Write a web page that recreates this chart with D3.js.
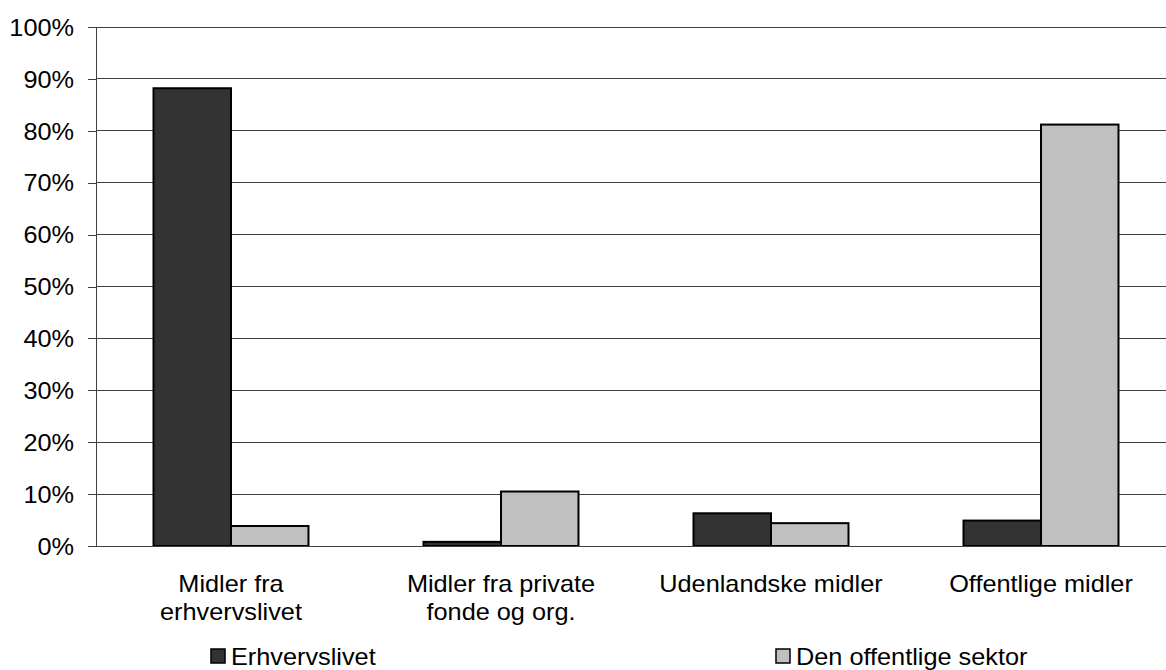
<!DOCTYPE html>
<html>
<head>
<meta charset="utf-8">
<script src="https://cdn.jsdelivr.net/npm/d3@7"></script>
<style>
  html, body { margin: 0; padding: 0; background: #fff; }
  svg { display: block; }
  text { font-family: "Liberation Sans", Arial, sans-serif; fill: #000; }
</style>
</head>
<body>
<svg id="chart" width="1166" height="670"></svg>
<script>
const categories = [["Midler fra", "erhvervslivet"], ["Midler fra private", "fonde og org."], ["Udenlandske midler"], ["Offentlige midler"]];
const seriesNames = ["Erhvervslivet", "Den offentlige sektor"];
const erhvervslivet = [88.2, 0.8, 6.3, 4.9];
const offentlige = [3.85, 10.5, 4.4, 81.2];
const yTicks = [0, 10, 20, 30, 40, 50, 60, 70, 80, 90, 100];
const colors = ["#333333", "#c0c0c0"];

(function() {
const FS = 23, SX = 1.1;
const svg = d3.select("#chart");
const pLeft = 96, pRight = 1176, pTop = 27, pBottom = 546;

const catKeys = categories.map((c, i) => i);
const x0 = d3.scaleBand().domain(catKeys).range([pLeft, pRight]).paddingInner(0.426).paddingOuter(0.213);
const x1 = d3.scaleBand().domain([0, 1]).range([0, x0.bandwidth()]);
const y = d3.scaleLinear().domain([0, 100]).range([pBottom, pTop]);

// gridlines
svg.append("g").selectAll("line").data(yTicks.filter(t => t > 0)).join("line")
  .attr("x1", pLeft).attr("x2", 1166)
  .attr("y1", d => y(d)).attr("y2", d => y(d))
  .attr("stroke", "#404040").attr("stroke-width", 1).attr("shape-rendering", "crispEdges");

// y axis
const yAxis = d3.axisLeft(y).tickValues(yTicks).tickFormat(d => d + "%").tickSize(8).tickPadding(0);
const gy = svg.append("g").attr("transform", `translate(${pLeft},0)`).call(yAxis);
gy.select(".domain").attr("stroke", "#404040").attr("shape-rendering", "crispEdges");
gy.selectAll(".tick line").attr("stroke", "#404040").attr("shape-rendering", "crispEdges");
gy.selectAll(".tick text").each(function() {
  const t = d3.select(this);
  t.attr("x", null).attr("dy", "0.36em")
   .attr("text-anchor", "end")
   .attr("transform", `translate(-22,0) scale(${SX},1)`)
   .style("font-size", FS + "px").style("font-family", '"Liberation Sans", Arial, sans-serif').attr("fill", "#000");
});

// bars
const data = catKeys.map(i => [erhvervslivet[i], offentlige[i]]);
const groups = svg.append("g").selectAll("g").data(data).join("g")
  .attr("transform", (d, i) => `translate(${x0(i)},0)`);
groups.selectAll("rect").data(d => d.map((v, s) => ({v, s}))).join("rect")
  .attr("x", d => x1(d.s)).attr("width", x1.bandwidth())
  .attr("y", d => y(d.v)).attr("height", d => y(0) - y(d.v))
  .attr("fill", d => colors[d.s]).attr("stroke", "#000").attr("stroke-width", 2);

// x baseline
svg.append("line").attr("x1", pLeft).attr("x2", 1166).attr("y1", pBottom).attr("y2", pBottom)
  .attr("stroke", "#404040").attr("shape-rendering", "crispEdges");

// x labels
const xl = svg.append("g");
categories.forEach((lines, i) => {
  const cx = x0(i) + x0.bandwidth() / 2;
  lines.forEach((ln, j) => {
    xl.append("text")
      .attr("transform", `translate(${cx},${592 + j * 28}) scale(${SX},1)`)
      .attr("text-anchor", "middle").style("font-size", FS + "px").text(ln);
  });
});

// legend
const legendPos = [211, 776];
seriesNames.forEach((name, i) => {
  const g = svg.append("g").attr("transform", `translate(${legendPos[i]},0)`);
  g.append("rect").attr("x", 0).attr("y", 649).attr("width", 14).attr("height", 14)
    .attr("fill", colors[i]).attr("stroke", "#000").attr("stroke-width", 1.5);
  g.append("text").attr("transform", `translate(20,665) scale(${SX},1)`)
    .style("font-size", FS + "px").text(name);
});
})();
</script>
</body>
</html>
